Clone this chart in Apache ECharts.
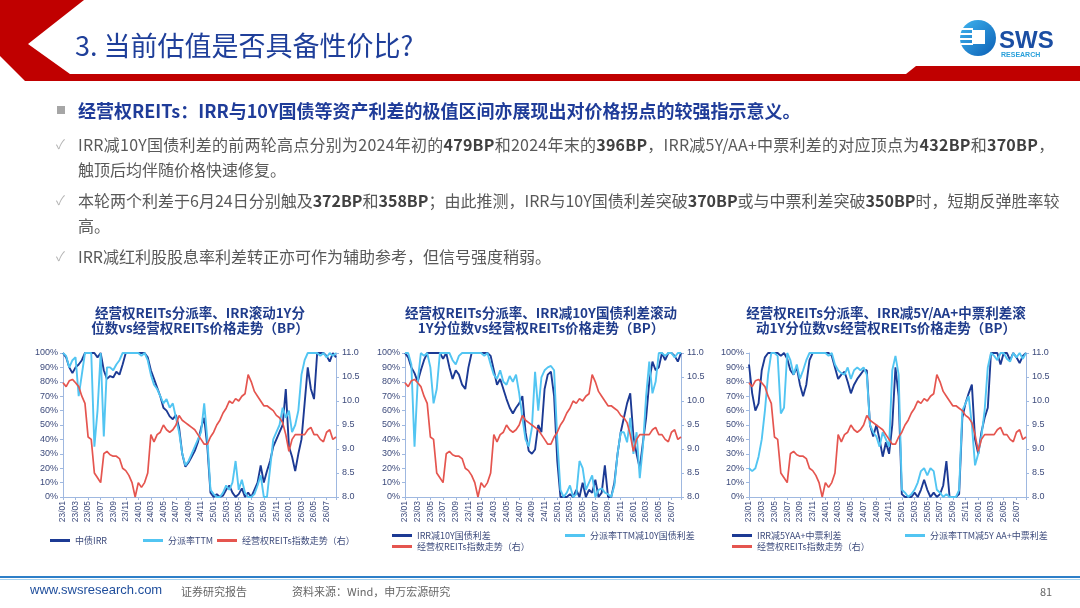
<!DOCTYPE html>
<html>
<head>
<meta charset="utf-8">
<script src="https://cdn.jsdelivr.net/npm/echarts@6/dist/echarts.min.js"></script>
<style>
html, body { margin: 0; padding: 0; width: 1080px; height: 608px; overflow: hidden; background: #fff; font-family: "Noto Sans CJK SC", sans-serif; }
#chart { position: absolute; left: 0; top: 0; width: 1080px; height: 608px; }
.abs { position: absolute; white-space: nowrap; }
.title { left: 75px; top: 30px; font-size: 27px; line-height: 30px; color: #1f3f9a; }
.head { left: 78px; top: 99px; font-size: 18px; line-height: 22px; font-weight: bold; color: #1f3c99; }
.bul { left: 57px; top: 106px; width: 8px; height: 8px; background: #a6a6a6; }
.txt { left: 78px; font-size: 16px; line-height: 20px; color: #595959; }
.txt b { color: #404040; }
.chk { left: 56px; font-size: 13px; line-height: 20px; color: #b4b4b4; }
.foot { top: 584px; font-size: 11px; line-height: 14px; color: #666; }
</style>
</head>
<body>
<div id="chart"></div>

<svg class="abs" style="left:0;top:0" width="1080" height="90">
  <polygon points="0,0 84,0 28,44 70,74 906,74 916,66 1080,66 1080,81 25,81 0,56" fill="#c00000"/>
</svg>
<div class="abs title">3. 当前估值是否具备性价比?</div>

<svg class="abs" style="left:955px;top:16px" width="110" height="46">
  <defs>
    <linearGradient id="lg" x1="0" y1="0" x2="1" y2="1">
      <stop offset="0" stop-color="#3fb4ef"/>
      <stop offset="1" stop-color="#0b5fb5"/>
    </linearGradient>
  </defs>
  <circle cx="23" cy="22" r="18" fill="url(#lg)"/>
  <rect x="6" y="12" width="12" height="2" fill="#fff"/>
  <rect x="5" y="17" width="13" height="2" fill="#fff"/>
  <rect x="5" y="22" width="13" height="2" fill="#fff"/>
  <rect x="6" y="27" width="12" height="2" fill="#fff"/>
  <rect x="17" y="14" width="13" height="14" fill="#fff"/>
  <text x="44" y="32" font-family="Liberation Sans, sans-serif" font-weight="bold" font-size="24" fill="#1b4ea3">SWS</text>
  <text x="46" y="41" font-family="Liberation Sans, sans-serif" font-weight="bold" font-size="7" fill="#2aa0da">RESEARCH</text>
</svg>

<div class="abs bul"></div>
<div class="abs head">经营权REITs：IRR与10Y国债等资产利差的极值区间亦展现出对价格拐点的较强指示意义。</div>

<div class="abs chk" style="top:134px">✓</div>
<div class="abs txt" style="top:134px;letter-spacing:0.25px">IRR减10Y国债利差的前两轮高点分别为2024年初的<b>479BP</b>和2024年末的<b>396BP</b>，IRR减5Y/AA+中票利差的对应顶点为<b>432BP</b>和<b>370BP</b>，</div>
<div class="abs txt" style="top:159px">触顶后均伴随价格快速修复。</div>
<div class="abs chk" style="top:190px">✓</div>
<div class="abs txt" style="top:190px">本轮两个利差于6月24日分别触及<b>372BP</b>和<b>358BP</b>；由此推测，IRR与10Y国债利差突破<b>370BP</b>或与中票利差突破<b>350BP</b>时，短期反弹胜率较</div>
<div class="abs txt" style="top:215px">高。</div>
<div class="abs chk" style="top:246px">✓</div>
<div class="abs txt" style="top:246px">IRR减红利股股息率利差转正亦可作为辅助参考，但信号强度稍弱。</div>

<div class="abs" style="left:0;top:576px;width:1080px;height:2px;background:#2e7fc8"></div>
<div class="abs" style="left:0;top:579px;width:1080px;height:1px;background:#a9d3f0"></div>
<div class="abs foot" style="left:30px;top:583px;font-size:13px;color:#1f4e9c;font-family:'Liberation Sans',sans-serif">www.swsresearch.com</div>
<div class="abs foot" style="left:181px">证券研究报告</div>
<div class="abs foot" style="left:292px">资料来源：Wind，申万宏源研究</div>
<div class="abs foot" style="left:1040px">81</div>

<script>
// tick labels on the x axis (one every two months, data is half-monthly)
var xLabels = ['23/01','23/03','23/05','23/07','23/09','23/11','24/01','24/03','24/05','24/07','24/09','24/11',
  '25/01','25/03','25/05','25/07','25/09','25/11','26/01','26/03','26/05','26/07'];

// 经营权REITs指数走势（右）, same in all three charts
var reitsIndex = [10.38,10.3,10.42,10.45,10.38,10.3,10.1,9.95,9.25,9.2,
  8.5,8.4,8.3,8.9,8.95,8.88,8.85,8.85,8.8,8.6,
  8.55,8.45,8.3,8.0,8.3,8.2,8.3,8.5,9.3,9.15,
  9.3,9.35,9.5,9.4,9.35,9.4,9.5,9.7,9.6,9.55,
  9.5,9.45,9.4,9.3,9.2,9.1,9.1,9.25,9.35,9.5,
  9.6,9.75,9.85,10.0,9.95,10.05,10.0,10.1,10.15,10.55,
  10.4,10.2,10.1,10.0,9.9,9.9,9.85,9.8,9.7,9.65,
  9.55,9.3,8.95,9.2,9.3,9.3,9.3,9.3,9.4,9.45,
  9.3,9.3,9.2,9.15,9.35,9.4,9.2,9.25];

// chart 1: rolling 1Y percentile (%)
var irrPct = [100,97,90,86,90,92,95,100,100,100,
  100,97,100,88,82,84,83,87,85,92,
  100,100,100,100,100,100,100,97,88,82,
  76,70,62,60,56,54,57,48,30,21,
  24,28,32,38,48,55,35,3,0,2,
  0,1,5,8,3,0,2,6,0,3,
  0,5,10,22,10,18,25,35,40,45,
  50,75,35,28,18,30,40,65,90,75,
  68,100,100,100,98,94,100,97];
var payoutPct = [100,98,90,95,97,70,85,100,100,100,
  35,60,100,42,90,90,88,92,95,100,
  100,100,100,100,100,98,100,95,85,78,
  75,70,65,68,62,65,55,45,30,22,
  25,30,35,40,45,65,40,5,2,0,
  0,3,8,5,10,25,5,12,3,0,
  0,2,8,15,0,0,20,40,45,50,
  62,55,60,45,50,60,85,95,100,100,
  100,100,98,100,97,100,98,100];

// chart 2: spread over 10Y CGB, rolling 1Y percentile (%)
var irrSpread10Y = [100,97,90,86,80,88,95,100,100,100,
  100,100,96,100,90,82,88,85,78,75,
  90,100,100,100,100,100,100,98,88,78,
  82,75,68,62,58,62,65,70,45,32,
  30,33,50,45,75,85,87,70,25,0,
  0,0,2,0,5,0,10,0,5,3,
  12,0,3,22,0,0,10,30,45,55,
  65,72,42,30,20,38,55,80,94,88,
  90,100,95,100,100,98,94,100];
var payoutSpread10Y = [100,100,92,35,80,100,98,100,90,65,
  75,100,100,100,100,95,92,98,100,100,
  100,100,100,100,100,98,100,92,85,82,
  88,80,78,84,80,85,72,55,40,35,
  48,87,60,83,88,90,91,88,40,5,
  0,3,8,0,2,25,20,5,10,15,
  0,5,6,3,2,0,8,30,45,45,
  38,55,30,45,13,35,70,94,72,80,
  100,100,98,100,100,97,100,100];

// chart 3: spread over 5Y AA+ MTN, rolling 1Y percentile (%)
var irrSpreadAA = [92,72,60,65,88,97,100,100,100,100,
  98,100,96,88,85,90,78,70,78,95,
  100,100,100,100,100,100,98,90,82,85,
  87,80,72,78,82,85,88,88,50,42,
  50,40,28,38,30,50,90,70,2,0,
  0,0,3,0,5,12,5,0,3,0,
  2,8,25,0,0,0,2,55,65,72,
  78,40,30,45,55,62,100,100,100,92,
  100,100,95,100,97,93,98,100];
var payoutSpreadAA = [20,18,20,28,40,60,85,100,100,98,
  58,62,100,95,85,92,82,88,95,100,
  100,100,100,100,100,98,100,92,88,86,
  85,90,82,88,90,88,90,85,50,45,
  42,35,45,40,35,88,98,85,5,3,
  0,2,5,10,18,20,15,20,18,5,
  3,0,2,0,0,0,5,60,65,70,
  50,22,30,42,60,90,100,98,95,100,
  100,96,94,100,97,100,96,100];

var DARK = '#1c3a94', LIGHT = '#52c5f2', RED = '#e5554f';
var AXIS = '#9fb8e0', LBL = '#3d4b7c';
var RED_NAME = '经营权REITs指数走势（右）';

var panels = [
  { left: 63, width: 273, dark: ['中债IRR', irrPct], light: ['分派率TTM', payoutPct],
    title: ['经营权REITs分派率、IRR滚动1Y分', '位数vs经营权REITs价格走势（BP）'], tx: 200 },
  { left: 405, width: 276, dark: ['IRR减10Y国债利差', irrSpread10Y], light: ['分派率TTM减10Y国债利差', payoutSpread10Y],
    title: ['经营权REITs分派率、IRR减10Y国债利差滚动', '1Y分位数vs经营权REITs价格走势（BP）'], tx: 541 },
  { left: 749, width: 277, dark: ['IRR减5YAA+中票利差', irrSpreadAA], light: ['分派率TTM减5Y AA+中票利差', payoutSpreadAA],
    title: ['经营权REITs分派率、IRR减5Y/AA+中票利差滚', '动1Y分位数vs经营权REITs价格走势（BP）'], tx: 886 }
];

function pts(arr) { return arr.map(function (v, i) { return [i, v]; }); }

var grid = [], xAxis = [], yAxis = [], series = [], graphic = [];
panels.forEach(function (p, k) {
  grid.push({ left: p.left, top: 353, width: p.width, height: 144 });
  xAxis.push({
    type: 'value', gridIndex: k, min: 0, max: 87, interval: 4,
    splitLine: { show: false },
    axisLine: { lineStyle: { color: AXIS } },
    axisTick: { length: 3, lineStyle: { color: AXIS } },
    axisLabel: {
      rotate: 90, fontSize: 8.5, color: LBL, margin: 4, fontFamily: 'Liberation Sans',
      formatter: function (v) { return v % 4 === 0 ? (xLabels[v / 4] || '') : ''; }
    }
  });
  yAxis.push({
    type: 'value', gridIndex: k, min: 0, max: 100, interval: 10,
    splitLine: { show: false },
    axisLine: { show: true, lineStyle: { color: AXIS } },
    axisTick: { show: true, length: 3, lineStyle: { color: AXIS } },
    axisLabel: { fontSize: 9, color: LBL, margin: 5, fontFamily: 'Liberation Sans', formatter: '{value}%' }
  });
  yAxis.push({
    type: 'value', gridIndex: k, position: 'right', min: 8, max: 11, interval: 0.5,
    splitLine: { show: false },
    axisLine: { show: true, lineStyle: { color: AXIS } },
    axisTick: { show: true, length: 3, lineStyle: { color: AXIS } },
    axisLabel: { fontSize: 9, color: LBL, margin: 6, fontFamily: 'Liberation Sans',
      formatter: function (v) { return v.toFixed(1); } }
  });
  var base = { type: 'line', xAxisIndex: k, showSymbol: false, symbol: 'none', animation: false };
  series.push(Object.assign({}, base, { name: p.dark[0], yAxisIndex: 2 * k, data: pts(p.dark[1]),
    lineStyle: { width: 1.9, color: DARK }, itemStyle: { color: DARK } }));
  series.push(Object.assign({}, base, { name: p.light[0], yAxisIndex: 2 * k, data: pts(p.light[1]),
    lineStyle: { width: 1.9, color: LIGHT }, itemStyle: { color: LIGHT } }));
  series.push(Object.assign({}, base, { name: RED_NAME, yAxisIndex: 2 * k + 1, data: pts(reitsIndex),
    lineStyle: { width: 1.7, color: RED }, itemStyle: { color: RED } }));
  p.title.forEach(function (t, j) {
    graphic.push({ type: 'text', x: p.tx, y: 313 + j * 15,
      style: { text: t, align: 'center', verticalAlign: 'middle', fill: '#1f3c8c',
        font: 'bold 13.5px "Noto Sans CJK SC"' } });
  });
});

// legend items placed one by one like the original
var legendPos = [
  ['中债IRR', 50, 536], ['分派率TTM', 143, 536], [RED_NAME, 217, 536],
  ['IRR减10Y国债利差', 392, 531], ['分派率TTM减10Y国债利差', 565, 531], [RED_NAME, 392, 542],
  ['IRR减5YAA+中票利差', 732, 531], ['分派率TTM减5Y AA+中票利差', 905, 531], [RED_NAME, 732, 542]
];
var legend = legendPos.map(function (l) {
  return { data: [l[0]], left: l[1], top: l[2], padding: 0, icon: 'rect', itemWidth: 20, itemHeight: 3,
    selectedMode: false, textStyle: { fontSize: 9, color: LBL, fontFamily: 'Noto Sans CJK SC' } };
});

var myChart = echarts.init(document.getElementById('chart'));
myChart.setOption({
  animation: false,
  grid: grid, xAxis: xAxis, yAxis: yAxis, series: series, legend: legend, graphic: graphic
});
</script>
</body>
</html>
